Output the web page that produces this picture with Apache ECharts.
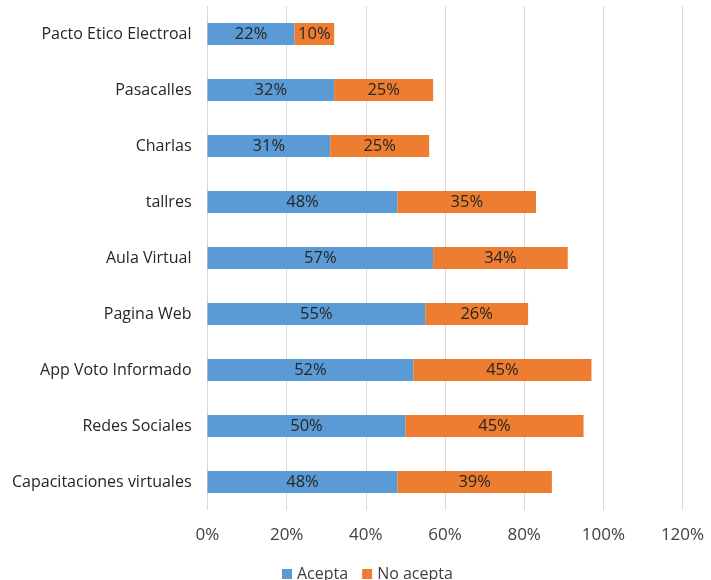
<!DOCTYPE html>
<html>
<head>
<meta charset="utf-8">
<script src="https://cdn.jsdelivr.net/npm/echarts@6/dist/echarts.min.js"></script>
<style>
  html, body { margin: 0; padding: 0; background: #fff; }
  #chart { width: 711px; height: 580px; }
</style>
</head>
<body>
<div id="chart"></div>
<script>
// categories from bottom to top (category axis on y starts at bottom)
var categories = [
  "Capacitaciones virtuales",
  "Redes Sociales",
  "App Voto Informado",
  "Pagina Web",
  "Aula Virtual",
  "tallres",
  "Charlas",
  "Pasacalles",
  "Pacto Etico Electroal"
];
var acepta = [48, 50, 52, 55, 57, 48, 31, 32, 22];
var noAcepta = [39, 45, 45, 26, 34, 35, 25, 25, 10];
var seriesNames = ["Acepta", "No acepta"];

var myChart = echarts.init(document.getElementById("chart"));
var labelStyle = {
  show: true,
  position: "inside",
  color: "#262626",
  fontSize: 16.5,
  fontFamily: "Open Sans",
  formatter: function (p) {
    return p.value + "%";
  },
};

var option = {
  animation: false,
  textStyle: { fontFamily: "Open Sans" },
  grid: {
    left: 207.5,
    right: 28.5,
    top: 6,
    bottom: 70,
  },
  legend: {
    bottom: -7,
    left: 277,
    itemWidth: 10,
    itemHeight: 10,
    itemGap: 14,
    icon: "rect",
    textStyle: { fontSize: 16, color: "#404040", fontFamily: "Open Sans" },
    data: seriesNames,
  },
  xAxis: {
    type: "value",
    min: 0,
    max: 120,
    interval: 20,
    axisLabel: {
      formatter: "{value}%",
      color: "#404040",
      fontSize: 17,
      margin: 17,
    },
    splitLine: { lineStyle: { color: "#d9d9d9", width: 1 } },
    axisLine: { show: false },
    axisTick: { show: false },
  },
  yAxis: {
    type: "category",
    data: categories,
    axisLabel: { color: "#262626", fontSize: 16, margin: 16 },
    axisLine: { show: false },
    axisTick: { show: false },
  },
  series: [
    {
      name: seriesNames[0],
      type: "bar",
      stack: "total",
      data: acepta,
      barWidth: 22,
      itemStyle: { color: "#5b9bd5" },
      label: labelStyle,
    },
    {
      name: seriesNames[1],
      type: "bar",
      stack: "total",
      data: noAcepta,
      barWidth: 22,
      itemStyle: { color: "#ed7d31" },
      label: labelStyle,
    },
  ],
};

option && myChart.setOption(option);
</script>
</body>
</html>
